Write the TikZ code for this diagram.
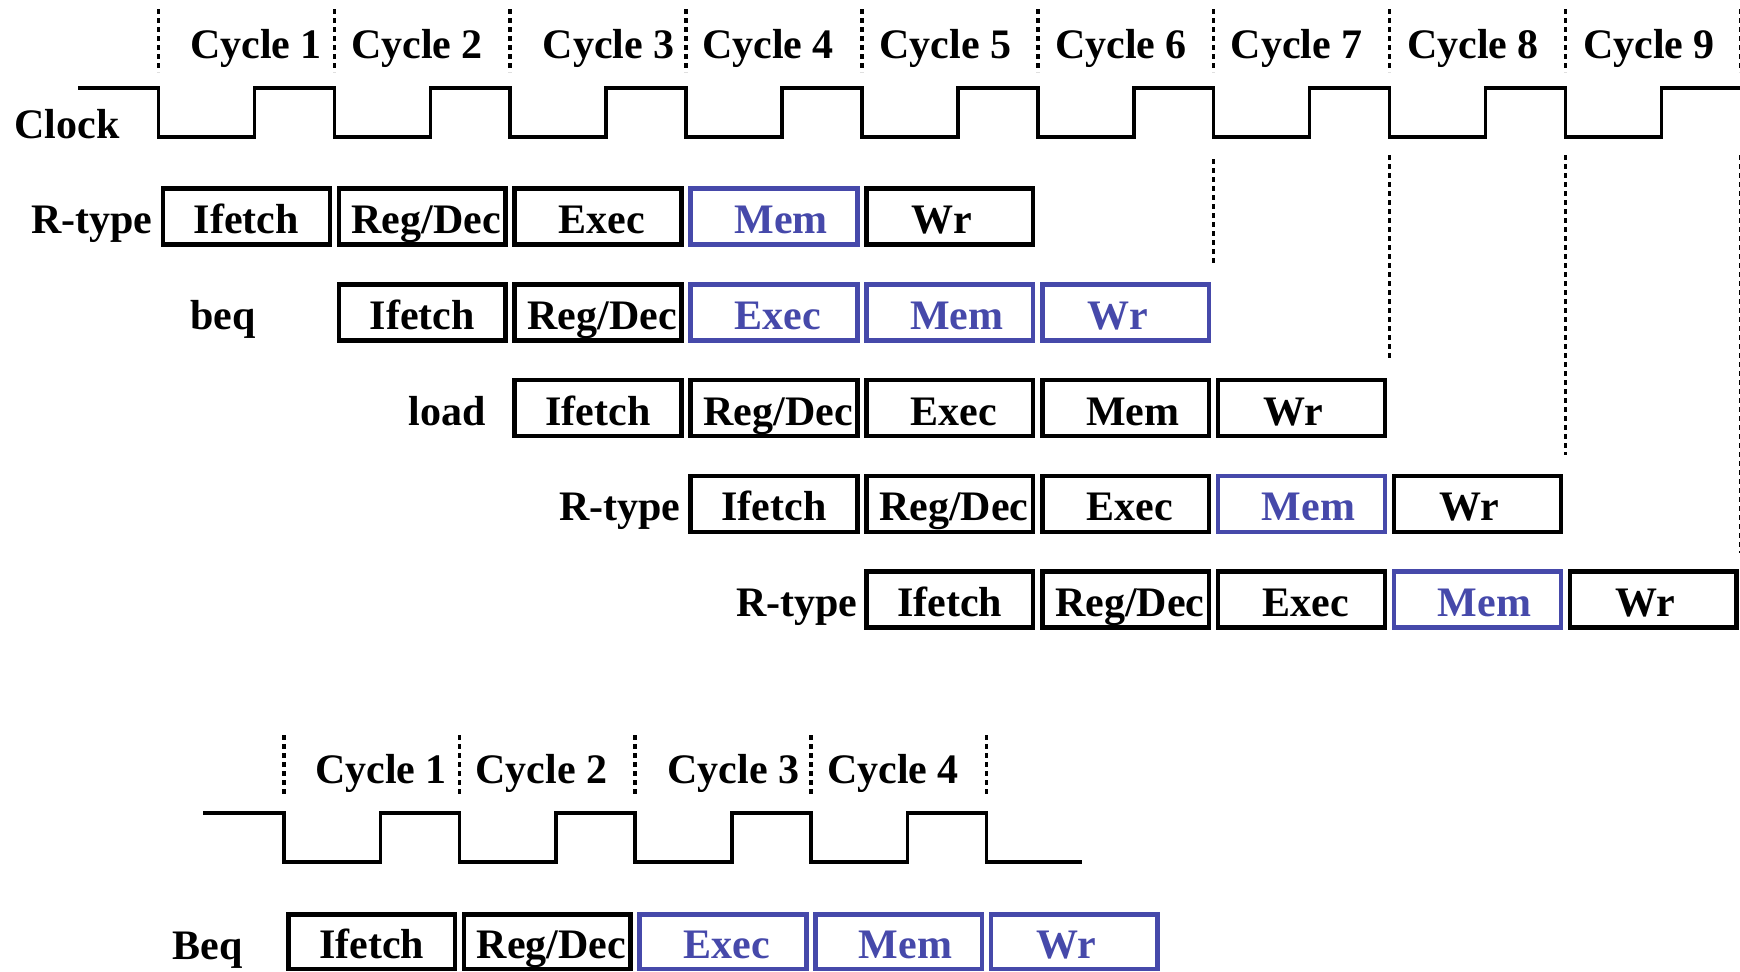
\documentclass[tikz,border=0pt]{standalone}
\usepackage{fontspec}
\setmainfont{Liberation Serif}
\definecolor{stageblue}{RGB}{70,73,170}

% One stage of a pipeline row: box plus its (slightly offset) label.
% #1 name, #2 box centre x, #3 box centre y, #4 text, #5 plain/hot, #6 text shift
\newcommand{\pipestage}[6]{%
  \node[stagebox,#5box] (#1) at (#2,#3) {};
  \path (#1.center) ++(#6,17) node[stagetext,#5text] (#1-t) {#4};
}

\tikzset{
  x=0.5pt, y=-0.5pt,
  bigfont/.style={font=\bfseries\fontsize{21pt}{24pt}\selectfont},
  stagebox/.style={draw, line width=2.25pt, minimum width=83.4pt,
    minimum height=28pt, inner sep=0pt, outer sep=0pt},
  plainbox/.style={},
  hotbox/.style={draw=stageblue},
  plaintext/.style={},
  hottext/.style={text=stageblue},
  stagetext/.style={bigfont, inner sep=0pt, anchor=base},
  rowlabel/.style={bigfont, inner sep=0pt},
  cyclemark/.style={line width=1.75pt, dash pattern=on 2.25pt off 2.25pt},
  clockline/.style={line width=1.8pt, line join=miter},
}

\begin{document}
\begin{tikzpicture}
\useasboundingbox (0,0) rectangle (1740,971);
\clip (0,0) rectangle (1740,971);

% ---------------- upper timing chart ----------------
% cycle boundaries
\foreach \xx in {158.5,334.35,510.2,686.05,861.9,1037.75,1213.6,1389.45,1565.3,1741.15}
  \draw[cyclemark] (\xx,9) -- (\xx,72);

% cycle names
\node[stagetext] (cyc1) at (256,58) {Cycle 1};
\node[stagetext] (cyc2) at (417,58) {Cycle 2};
\node[stagetext] (cyc3) at (608.7,58) {Cycle 3};
\node[stagetext] (cyc4) at (768,58) {Cycle 4};
\node[stagetext] (cyc5) at (945.5,58) {Cycle 5};
\node[stagetext] (cyc6) at (1121,58) {Cycle 6};
\node[stagetext] (cyc7) at (1296.7,58) {Cycle 7};
\node[stagetext] (cyc8) at (1473,58) {Cycle 8};
\node[stagetext] (cyc9) at (1649,58) {Cycle 9};

% clock waveform
\node[rowlabel, anchor=base west] (clk) at (14,138) {Clock};
\draw[clockline] (78,88)
  \foreach \k in {0,...,8} {
    -- ({158.5+175.85*\k},88) -- ({158.5+175.85*\k},137)
    -- ({254.5+175.85*\k},137) -- ({254.5+175.85*\k},88) }
  -- (1745,88);

% instruction rows
\node[rowlabel, anchor=base east] (lab1) at (153,233.5) {R-type};
\pipestage{a1}{246.4}{216.5}{Ifetch}{plain}{0}
\pipestage{a2}{422.3}{216.5}{Reg/Dec}{plain}{4}
\pipestage{a3}{598.1}{216.5}{Exec}{plain}{4}
\pipestage{a4}{774.0}{216.5}{Mem}{hot}{7}
\pipestage{a5}{949.8}{216.5}{Wr}{plain}{-8}

\node[rowlabel, anchor=base] (lab2) at (223,329.25) {beq};
\pipestage{b1}{422.3}{312.25}{Ifetch}{plain}{0}
\pipestage{b2}{598.1}{312.25}{Reg/Dec}{plain}{4}
\pipestage{b3}{774.0}{312.25}{Exec}{hot}{4}
\pipestage{b4}{949.8}{312.25}{Mem}{hot}{7}
\pipestage{b5}{1125.7}{312.25}{Wr}{hot}{-8}

\node[rowlabel, anchor=base east] (lab3) at (486,425) {load};
\pipestage{c1}{598.1}{408}{Ifetch}{plain}{0}
\pipestage{c2}{774.0}{408}{Reg/Dec}{plain}{4}
\pipestage{c3}{949.8}{408}{Exec}{plain}{4}
\pipestage{c4}{1125.7}{408}{Mem}{plain}{7}
\pipestage{c5}{1301.5}{408}{Wr}{plain}{-8}

\node[rowlabel, anchor=base east] (lab4) at (681,520.75) {R-type};
\pipestage{d1}{774.0}{503.75}{Ifetch}{plain}{0}
\pipestage{d2}{949.8}{503.75}{Reg/Dec}{plain}{4}
\pipestage{d3}{1125.7}{503.75}{Exec}{plain}{4}
\pipestage{d4}{1301.5}{503.75}{Mem}{hot}{7}
\pipestage{d5}{1477.4}{503.75}{Wr}{plain}{-8}

\node[rowlabel, anchor=base east] (lab5) at (858,616.5) {R-type};
\pipestage{e1}{949.8}{599.5}{Ifetch}{plain}{0}
\pipestage{e2}{1125.7}{599.5}{Reg/Dec}{plain}{4}
\pipestage{e3}{1301.5}{599.5}{Exec}{plain}{4}
\pipestage{e4}{1477.4}{599.5}{Mem}{hot}{7}
\pipestage{e5}{1653.2}{599.5}{Wr}{plain}{-8}

% end-of-instruction markers
\draw[cyclemark] (1213.6,159) -- (1213.6,264);
\draw[cyclemark] (1389.45,155) -- (1389.45,361);
\draw[cyclemark] (1565.3,155) -- (1565.3,455);
\draw[cyclemark] (1741.15,155) -- (1741.15,553);

% ---------------- lower timing chart (multicycle beq) ----------------
\foreach \xx in {284,459.6,635.2,810.8,986.4}
  \draw[cyclemark] (\xx,735) -- (\xx,797);

\node[stagetext] (bcyc1) at (381,783) {Cycle 1};
\node[stagetext] (bcyc2) at (541.5,783) {Cycle 2};
\node[stagetext] (bcyc3) at (733.5,783) {Cycle 3};
\node[stagetext] (bcyc4) at (893,783) {Cycle 4};

\draw[clockline] (203,813)
  \foreach \k in {0,...,3} {
    -- ({284+175.6*\k},813) -- ({284+175.6*\k},862)
    -- ({380.5+175.6*\k},862) -- ({380.5+175.6*\k},813) }
  -- (986.4,813) -- (986.4,862) -- (1082,862);

\node[rowlabel, anchor=base west] (lab6) at (172,959) {Beq};
\begin{scope}[stagebox/.append style={minimum width=83.3pt, minimum height=27.25pt}]
\pipestage{f1}{371.8}{941.7}{Ifetch}{plain}{0}
\pipestage{f2}{547.4}{941.7}{Reg/Dec}{plain}{4}
\pipestage{f3}{723.0}{941.7}{Exec}{hot}{4}
\pipestage{f4}{898.6}{941.7}{Mem}{hot}{7}
\pipestage{f5}{1074.2}{941.7}{Wr}{hot}{-8}
\end{scope}
\end{tikzpicture}
\end{document}
